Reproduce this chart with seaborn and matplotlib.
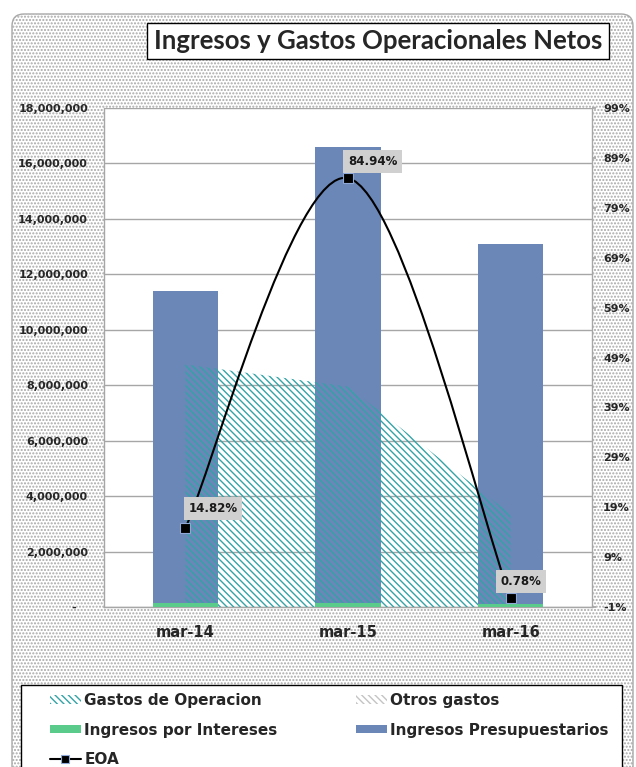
import numpy as np
import pandas as pd
import matplotlib
matplotlib.use("Agg")
import matplotlib.pyplot as plt
import seaborn as sns
from matplotlib.patches import FancyBboxPatch, Rectangle, Patch, PathPatch
from matplotlib.path import Path
from matplotlib.lines import Line2D
import matplotlib.ticker as mticker

# ---------------- data ----------------
categories = ["mar-14", "mar-15", "mar-16"]
ingresos_presupuestarios = [11400000, 16580000, 13100000]
ingresos_intereses = [140000, 140000, 110000]
gastos_operacion = [8750000, 7950000, 3350000]
otros_gastos = [0, 0, 0]
eoa = [0.1482, 0.8494, 0.0078]
eoa_labels = ["14.82%", "84.94%", "0.78%"]
left_ticks = [0, 2000000, 4000000, 6000000, 8000000, 10000000,
              12000000, 14000000, 16000000, 18000000]
right_ticks = [-0.01, 0.09, 0.19, 0.29, 0.39, 0.49, 0.59, 0.69, 0.79, 0.89, 0.99]

title = "Ingresos y Gastos Operacionales Netos"
legend_labels = ["Gastos de Operacion", "Otros gastos", "Ingresos por Intereses",
                 "Ingresos Presupuestarios", "EOA"]

# ---------------- style ----------------
sns.set_theme(style="white")
plt.rcParams["font.family"] = ["DejaVu Sans"]
plt.rcParams["hatch.linewidth"] = 1.0

BLUE = "#6a87b8"
GREEN = "#5bcb8b"
TEAL = "#34a3a6"
GRAY_H = "#c4c4c4"
HATCH = "\\" * 5
DOTS = "." * 5

W, H = 636, 767
fig = plt.figure(figsize=(W / 100, H / 100), dpi=100)
fig.patch.set_facecolor("white")

# dotted rounded background
bg = FancyBboxPatch((0.12, -0.3), 6.33 - 0.12, 7.67 - 0.14 + 0.3,
                    boxstyle="round,pad=0,rounding_size=0.12",
                    transform=fig.dpi_scale_trans, facecolor="white",
                    edgecolor="#a8a8a8", hatch=DOTS, linewidth=1.0, zorder=0)
fig.patches.append(bg)

# ---------------- main axes ----------------
ax = fig.add_axes([104 / W, 1 - 607 / H, (592 - 104) / W, (607 - 108) / H])
ax.set_facecolor("white")
ax.set_zorder(2)

df = pd.DataFrame({"cat": categories,
                   "pres": ingresos_presupuestarios,
                   "int": ingresos_intereses})
sns.barplot(data=df, x="cat", y="pres", color=BLUE, width=0.4, saturation=1,
            ax=ax, zorder=2, linewidth=0)
xs = np.arange(len(categories))
g = np.array(gastos_operacion, dtype=float)
o = np.array(otros_gastos, dtype=float)
ax.fill_between(xs, 0, g, facecolor="none", edgecolor=TEAL, hatch=HATCH,
                linewidth=0, zorder=3)
ax.fill_between(xs, g, g + o, facecolor="none", edgecolor=GRAY_H, hatch=HATCH,
                linewidth=0, zorder=3)
sns.barplot(data=df, x="cat", y="int", color=GREEN, width=0.4, saturation=1,
            ax=ax, zorder=4, linewidth=0)

ax.set_xlim(-0.5, 2.5)
ax.set_ylim(0, 18000000)
ax.set_yticks(left_ticks)
ax.yaxis.set_major_formatter(mticker.FuncFormatter(
    lambda v, p: "-   " if v == 0 else f"{v:,.0f}"))
ax.set_xlabel("")
ax.set_ylabel("")
ax.yaxis.grid(True, color="#a6a6a6", linewidth=1.0)
ax.xaxis.grid(False)
ax.set_axisbelow(True)
ax.tick_params(axis="y", length=0, pad=11.5, labelsize=8)
ax.tick_params(axis="x", length=0, pad=13, labelsize=10.5)
for t in ax.get_yticklabels() + ax.get_xticklabels():
    t.set_fontweight("bold")
for s in ["left", "right", "top", "bottom"]:
    ax.spines[s].set_color("#a6a6a6")
    ax.spines[s].set_linewidth(1.0)
ax.spines["top"].set_visible(False)

# ---------------- secondary axis (EOA) ----------------
ax2 = ax.twinx()
ax2.set_ylim(-0.01, 0.99)
ax2.set_yticks(right_ticks)
ax2.yaxis.set_major_formatter(mticker.FuncFormatter(
    lambda v, p: f"{round(v * 100):.0f}%"))
ax2.tick_params(axis="y", length=3, color="#a6a6a6", pad=5, labelsize=8)
for t in ax2.get_yticklabels():
    t.set_fontweight("bold")
ax2.grid(False)
for s in ["left", "right", "top", "bottom"]:
    ax2.spines[s].set_visible(False)

# smoothed line (cubic Bezier through the data points)
pts = np.column_stack([xs, np.array(eoa)])
verts = [pts[0]]
codes = [Path.MOVETO]
k = 1 / 6
n = len(pts)
for i in range(n - 1):
    p_prev = pts[max(i - 1, 0)]
    p0 = pts[i]
    p1 = pts[i + 1]
    p_next = pts[min(i + 2, n - 1)]
    verts += [p0 + (p1 - p_prev) * k, p1 - (p_next - p0) * k, p1]
    codes += [Path.CURVE4] * 3
ax2.add_patch(PathPatch(Path(verts, codes), facecolor="none", edgecolor="black",
                        linewidth=1.5, zorder=5))
ax2.plot(xs, eoa, linestyle="none", marker="s", markersize=6.5,
         markerfacecolor="black", markeredgecolor="#8fa8d8", markeredgewidth=0.8,
         zorder=6)

offsets = [(3, 13), (0, 10), (-10, 10)]
for xi, v, lbl, off in zip(xs, eoa, eoa_labels, offsets):
    ax2.annotate(lbl, (xi, v), xytext=off, textcoords="offset pixels",
                 ha="left", va="bottom", fontsize=8.5, fontweight="bold",
                 color="#1a1a1a",
                 bbox=dict(boxstyle="square,pad=0.4", facecolor="#d0d0d0",
                           edgecolor="none"), zorder=7)

# ---------------- title ----------------
fig.text(378 / W, 1 - 41 / H, title, ha="center", va="center",
         fontsize=18.5, fontweight="bold", family=["Lato", "DejaVu Sans"],
         bbox=dict(boxstyle="square,pad=0.25", facecolor="white",
                   edgecolor="black", linewidth=1.0), zorder=5)

# ---------------- legend ----------------
frame = Rectangle((21 / W, -0.02), (622 - 21) / W, (767 - 685) / H + 0.02,
                  transform=fig.transFigure, facecolor="white",
                  edgecolor="black", linewidth=1.0, zorder=3)
fig.patches.append(frame)

h_gastos = Patch(facecolor="white", edgecolor=TEAL, hatch=HATCH, linewidth=0)
h_otros = Patch(facecolor="white", edgecolor=GRAY_H, hatch=HATCH, linewidth=0)
h_int = Patch(facecolor=GREEN, edgecolor="none")
h_pres = Patch(facecolor=BLUE, edgecolor="none")
h_eoa = Line2D([], [], color="black", linewidth=1.5, marker="s", markersize=6,
               markerfacecolor="black", markeredgecolor="#8fa8d8",
               markeredgewidth=0.8)

leg_kw = dict(loc="upper left", frameon=False, borderpad=0, borderaxespad=0,
              handlelength=2.0, handleheight=0.5, handletextpad=0.25,
              labelspacing=0.95, prop=dict(size=11, weight="bold"))
leg1 = fig.legend([h_gastos, h_int, h_eoa],
                  [legend_labels[0], legend_labels[2], legend_labels[4]],
                  bbox_to_anchor=(50 / W, 1 - 693 / H), **leg_kw)
leg2 = fig.legend([h_otros, h_pres],
                  [legend_labels[1], legend_labels[3]],
                  bbox_to_anchor=(356 / W, 1 - 693 / H), **leg_kw)
leg1.set_zorder(6)
leg2.set_zorder(6)

fig.savefig("out.png", dpi=100)
